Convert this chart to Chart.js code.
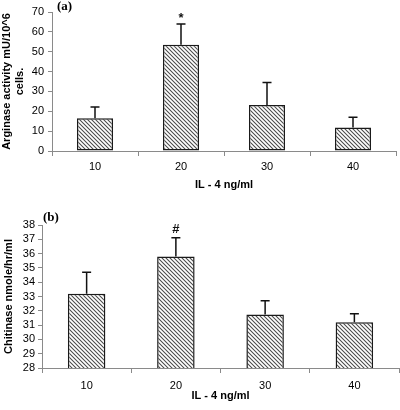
<!DOCTYPE html>
<html>
<head>
<meta charset="utf-8">
<script src="https://cdn.jsdelivr.net/npm/chart.js@4/dist/chart.umd.min.js"></script>
<style>
  html, body { margin: 0; padding: 0; background: #fff; }
  canvas { display: block; }
</style>
</head>
<body>
<canvas id="chartA" width="400" height="200"></canvas>
<canvas id="chartB" width="400" height="210"></canvas>
<script>
// IL-4 dose groups (ng/ml)
const doses = ["10", "20", "30", "40"];

// (a) arginase activity, mU/10^6 cells
const arginase = [16.5, 53.5, 23.2, 11.8];
const arginaseErr = [5.6, 10.4, 11.3, 5.2];
const arginaseMarks = ["", "*", "", ""];

// (b) chitinase, nmole/hr/ml
const chitinase = [33.2, 35.8, 31.75, 31.2];
const chitinaseErr = [1.5, 1.3, 0.95, 0.6];
const chitinaseMarks = ["", "#", "", ""];

const FONT = "'Liberation Sans', Arial, sans-serif";
const AXIS_GRAY = "#8a8a8a";

function hatch() {
  const c = document.createElement("canvas");
  c.width = 4; c.height = 4;
  const g = c.getContext("2d");
  g.fillStyle = "#fff";
  g.fillRect(0, 0, 4, 4);
  g.strokeStyle = "#4a4a4a";
  g.lineWidth = 1.05;
  g.beginPath();
  g.moveTo(-1, -1); g.lineTo(5, 5);
  g.moveTo(-1, 3); g.lineTo(1, 5);
  g.moveTo(3, -1); g.lineTo(5, 1);
  g.stroke();
  return g.createPattern(c, "repeat");
}

// upward-only error bars plus significance marks
const errorBars = {
  id: "errorBars",
  afterDatasetsDraw(chart, args, opts) {
    const { ctx } = chart;
    const yScale = chart.scales.y;
    const meta = chart.getDatasetMeta(0);
    const values = chart.data.datasets[0].data;
    ctx.save();
    ctx.strokeStyle = "#111";
    ctx.lineWidth = 1.5;
    meta.data.forEach((bar, i) => {
      const top = yScale.getPixelForValue(values[i] + opts.err[i]);
      ctx.beginPath();
      ctx.moveTo(bar.x, bar.y);
      ctx.lineTo(bar.x, top);
      ctx.moveTo(bar.x - 4.5, top);
      ctx.lineTo(bar.x + 4.5, top);
      ctx.stroke();
      if (opts.marks[i]) {
        ctx.fillStyle = "#111";
        ctx.font = "bold 13px " + FONT;
        ctx.textAlign = "center";
        ctx.textBaseline = "middle";
        ctx.fillText(opts.marks[i], bar.x, top - opts.markGap);
      }
    });
    ctx.restore();
  }
};

const panelLabel = {
  id: "panelLabel",
  afterDraw(chart, args, opts) {
    const { ctx, chartArea } = chart;
    ctx.save();
    ctx.fillStyle = "#000";
    ctx.font = "bold 13px 'Liberation Serif', 'Times New Roman', serif";
    ctx.textAlign = "left";
    ctx.textBaseline = "middle";
    ctx.fillText(opts.text, chartArea.left + opts.dx, chartArea.top + opts.dy);
    ctx.restore();
  }
};

function makeChart(id, values, err, marks, cfg) {
  return new Chart(document.getElementById(id), {
    type: "bar",
    data: {
      labels: doses,
      datasets: [{
        data: values,
        backgroundColor: hatch(),
        borderColor: "#1a1a1a",
        borderWidth: 1.5,
        borderSkipped: false,
        categoryPercentage: 1,
        barPercentage: 0.42
      }]
    },
    plugins: [errorBars, panelLabel],
    options: {
      responsive: false,
      animation: false,
      layout: { padding: { top: cfg.padTop, right: cfg.padRight, left: 0, bottom: 0 } },
      plugins: {
        legend: { display: false },
        tooltip: { enabled: false },
        errorBars: { err: err, marks: marks, markGap: cfg.markGap },
        panelLabel: { text: cfg.label, dx: cfg.labelDx, dy: cfg.labelDy }
      },
      scales: {
        x: {
          afterFit: (s) => { s.height = cfg.xHeight; },
          border: { color: AXIS_GRAY, width: 1 },
          grid: {
            offset: true,
            drawOnChartArea: false,
            drawTicks: true,
            tickLength: 5,
            color: AXIS_GRAY
          },
          ticks: { color: "#000", padding: cfg.xTickPad, font: { family: FONT, size: 11 } },
          title: {
            display: true,
            text: "IL - 4 ng/ml",
            color: "#000",
            font: { family: FONT, size: 11, weight: "bold" },
            padding: { top: 0, bottom: cfg.xTitlePad }
          }
        },
        y: {
          min: cfg.min,
          max: cfg.max,
          afterFit: (s) => { s.width = cfg.yWidth; },
          border: { color: AXIS_GRAY, width: 1 },
          grid: {
            drawOnChartArea: false,
            drawTicks: true,
            tickLength: 4,
            color: AXIS_GRAY
          },
          ticks: {
            stepSize: cfg.step,
            autoSkip: false,
            color: "#000",
            padding: cfg.yTickPad,
            font: { family: FONT, size: 11 }
          },
          title: {
            display: true,
            text: cfg.yTitle,
            color: "#000",
            font: { family: FONT, size: 11, weight: "bold", lineHeight: 1.15 },
            padding: { top: cfg.yTitlePad, bottom: 0 }
          }
        }
      }
    }
  });
}

makeChart("chartA", arginase, arginaseErr, arginaseMarks, {
  min: 0, max: 70, step: 10,
  yTitle: ["Arginase activity mU/10^6", "cells."],
  yTitlePad: 1, yTickPad: 4, yWidth: 52,
  xHeight: 49, xTickPad: 4, xTitlePad: 8,
  padTop: 12, padRight: 4,
  label: "(a)", labelDx: 5, labelDy: -5.5,
  markGap: 6
});

makeChart("chartB", chitinase, chitinaseErr, chitinaseMarks, {
  min: 28, max: 38, step: 1,
  yTitle: "Chitinase nmole/hr/ml",
  yTitlePad: 3, yTickPad: 3, yWidth: 42,
  xHeight: 42, xTickPad: 6, xTitlePad: 7,
  padTop: 25, padRight: 1,
  label: "(b)", labelDx: 1, labelDy: -7.5,
  markGap: 8
});
</script>
</body>
</html>
